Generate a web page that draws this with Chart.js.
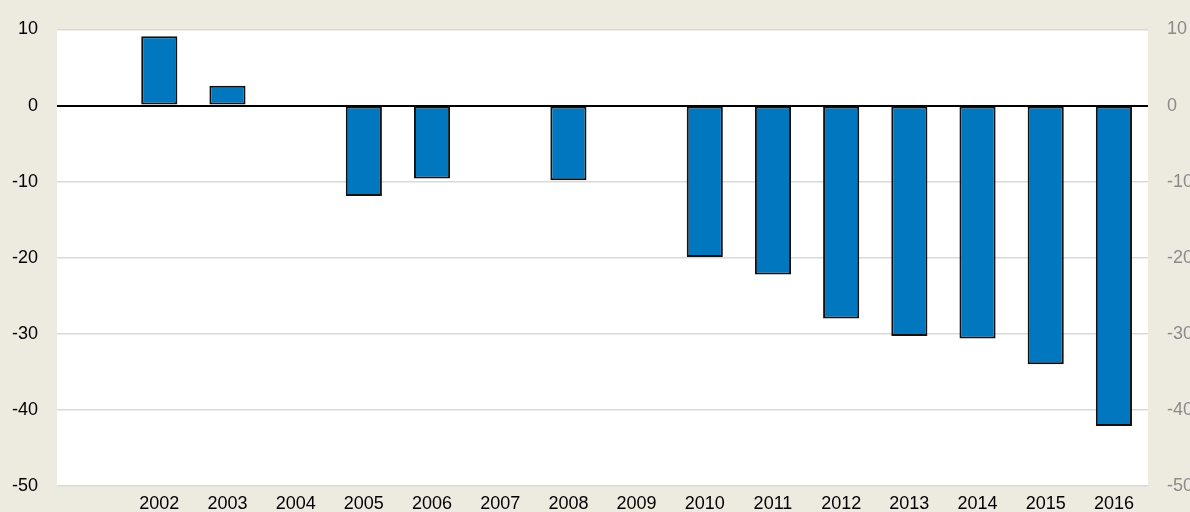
<!DOCTYPE html>
<html>
<head>
<meta charset="utf-8">
<script src="https://cdn.jsdelivr.net/npm/chart.js@4/dist/chart.umd.min.js"></script>
<style>
  html, body { margin: 0; padding: 0; background: #edeae0; }
  #wrap { width: 1190px; height: 512px; }
</style>
</head>
<body>
<div id="wrap"><canvas id="chart" width="1190" height="512"></canvas></div>
<script>
let years = ['', '2002', '2003', '2004', '2005', '2006', '2007', '2008', '2009',
             '2010', '2011', '2012', '2013', '2014', '2015', '2016'];
let values = [null, 9.1, 2.6, null, -11.9, -9.6, null, -9.8, null,
              -19.9, -22.2, -28.0, -30.3, -30.6, -34.0, -42.1];
let yTicks = [10, 0, -10, -20, -30, -40, -50];

let fontFamily = '"Liberation Sans", Arial, sans-serif';

// white plot area on beige background
let plotBg = {
    id: 'plotBg',
    beforeDraw(chart) {
        let ctx = chart.ctx;
        let a = chart.chartArea;
        ctx.save();
        ctx.fillStyle = '#ffffff';
        ctx.fillRect(a.left, a.top, a.right - a.left, a.bottom - a.top);
        ctx.restore();
    }
};

function noPad(s) {
    s.paddingTop = 0;
    s.paddingBottom = 0;
    s.paddingLeft = 0;
    s.paddingRight = 0;
}

let ctx = document.getElementById('chart').getContext('2d');
new Chart(ctx, {
    type: 'bar',
    data: {
        labels: years,
        datasets: [{
            data: values,
            backgroundColor: '#0077bf',
            borderColor: '#111111',
            borderWidth: 2,
            borderSkipped: false,
            categoryPercentage: 1,
            barPercentage: 0.53
        }]
    },
    options: {
        responsive: false,
        animation: false,
        layout: { padding: { top: 29.5, left: 0, right: 0, bottom: 0 } },
        plugins: { legend: { display: false }, tooltip: { enabled: false } },
        scales: {
            x: {
                grid: { display: false },
                border: { display: false },
                ticks: {
                    color: '#000',
                    font: { family: fontFamily, size: 18 },
                    padding: -1,
                    maxRotation: 0,
                    autoSkip: false
                },
                afterFit(s) { s.height = 26; noPad(s); }
            },
            y: {
                position: 'left',
                min: -50,
                max: 10,
                afterBuildTicks(s) { s.ticks = yTicks.map(v => ({ value: v })); },
                grid: {
                    drawTicks: false,
                    color: c => c.tick && c.tick.value === 0 ? '#000000' : '#d9d9d9',
                    lineWidth: c => c.tick && c.tick.value === 0 ? 2 : 1.5
                },
                border: { display: false },
                ticks: {
                    color: '#000',
                    font: { family: fontFamily, size: 18 },
                    padding: 19
                },
                afterFit(s) { s.width = 57; noPad(s); }
            },
            y2: {
                position: 'right',
                min: -50,
                max: 10,
                afterBuildTicks(s) { s.ticks = yTicks.map(v => ({ value: v })); },
                grid: { display: false, drawTicks: false },
                border: { display: false },
                ticks: {
                    color: '#8a8a8a',
                    font: { family: fontFamily, size: 18 },
                    padding: 19
                },
                afterFit(s) { s.width = 42; noPad(s); }
            }
        }
    },
    plugins: [plotBg]
});
</script>
</body>
</html>
